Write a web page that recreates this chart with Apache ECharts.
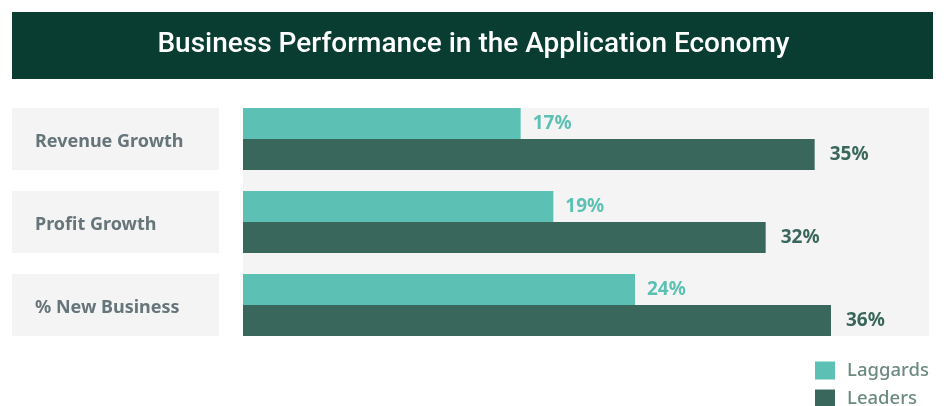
<!DOCTYPE html>
<html>
<head>
<meta charset="utf-8">
<script src="https://cdn.jsdelivr.net/npm/echarts@6/dist/echarts.min.js"></script>
<style>
  html, body { margin: 0; padding: 0; background: #fff; }
  #main { width: 947px; height: 406px; }
</style>
</head>
<body>
<div id="main"></div>
<script>
// data
const titleText = 'Business Performance in the Application Economy';
const categories = ['Revenue Growth', 'Profit Growth', '% New Business'];
const laggards = [17, 19, 24];
const leaders = [35, 32, 36];
const seriesNames = ['Laggards', 'Leaders'];

const TEAL = '#5cc1b4';
const DARK = '#3a675c';
const PANEL = '#f4f4f4';

// layout
const gridLeft = 243;
const gridWidth = 686;
const band = 83;
const barH = 31;
const gridTop = 139 - band / 2;
const pad = (band - 2 * barH) / 2;

const chart = echarts.init(document.getElementById('main'));

chart.setOption({
  animation: false,
  textStyle: { fontFamily: 'Noto Sans' },
  title: {
    text: titleText,
    left: 'center',
    top: 26,
    textStyle: {
      color: '#ffffff',
      fontFamily: 'Roboto',
      fontWeight: 500,
      fontSize: 28
    }
  },
  legend: {
    orient: 'vertical',
    left: 815,
    top: 361,
    height: 80,
    padding: 0,
    itemWidth: 20,
    itemHeight: 18,
    itemGap: 9,
    icon: 'rect',
    data: seriesNames,
    textStyle: {
      color: '#6b8a81',
      fontSize: 18.5,
      lineHeight: 18,
      fontWeight: 500,
      padding: [0, 0, 0, 7]
    }
  },
  graphic: [
    {
      type: 'rect',
      z: -1,
      shape: { x: 12, y: 12, width: 921, height: 67 },
      style: { fill: '#0a3d32' }
    },
    {
      type: 'rect',
      z: -1,
      shape: { x: gridLeft, y: gridTop + pad, width: gridWidth, height: band * 3 - pad * 2 },
      style: { fill: PANEL }
    }
  ],
  grid: {
    left: gridLeft,
    top: gridTop,
    width: gridWidth,
    height: band * 3
  },
  xAxis: {
    type: 'value',
    min: 0,
    max: 42,
    show: false
  },
  yAxis: {
    type: 'category',
    inverse: true,
    data: categories,
    axisLine: { show: false },
    axisTick: { show: false },
    axisLabel: {
      margin: gridLeft - 12,
      align: 'left',
      formatter: v => '{box|' + v + '}',
      rich: {
        box: {
          width: 184,
          height: 56,
          padding: [6, 0, 0, 23],
          backgroundColor: PANEL,
          color: '#66757a',
          fontSize: 18,
          fontWeight: 'bold',
          fontFamily: 'Noto Sans'
        }
      }
    }
  },
  series: [
    {
      name: seriesNames[0],
      type: 'bar',
      data: laggards,
      barWidth: barH,
      barGap: '0%',
      itemStyle: { color: TEAL },
      label: {
        show: true,
        position: 'right',
        distance: 12,
        formatter: '{c}%',
        color: TEAL,
        fontSize: 19,
        fontWeight: 'bold'
      }
    },
    {
      name: seriesNames[1],
      type: 'bar',
      data: leaders,
      barWidth: barH,
      barGap: '0%',
      itemStyle: { color: DARK },
      label: {
        show: true,
        position: 'right',
        distance: 15,
        formatter: '{c}%',
        color: DARK,
        fontSize: 19,
        fontWeight: 'bold'
      }
    }
  ]
});
</script>
</body>
</html>
